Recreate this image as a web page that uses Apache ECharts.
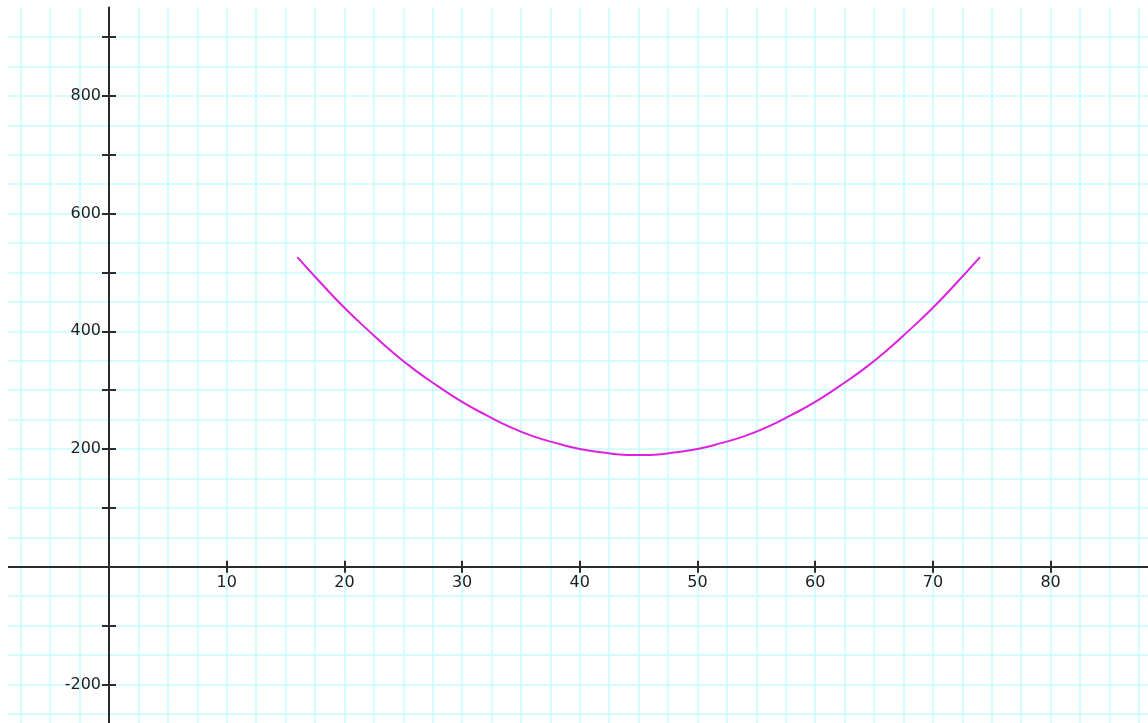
<!DOCTYPE html>
<html>
<head>
<meta charset="utf-8">
<script src="https://cdn.jsdelivr.net/npm/echarts@6/dist/echarts.min.js"></script>
<style>html,body{margin:0;padding:0;background:#fff}#c{width:1148px;height:723px}</style>
</head>
<body>
<div id="c"></div>
<script>
// Curve points (x, y)
var xValues = [16, 18, 20, 22, 24, 26, 28, 30, 32, 34, 36, 38, 40, 42, 44, 46, 48, 50, 52, 54, 56, 58, 60, 62, 64, 66, 68, 70, 72, 74];
var yValues = [526, 482, 440, 402, 366, 334, 306, 280, 258, 238, 222, 210, 200, 194, 190, 190, 194, 200, 210, 222, 238, 258, 280, 306, 334, 366, 402, 440, 482, 526];
var xTickLabels = [10, 20, 30, 40, 50, 60, 70, 80];
var yTickLabels = [-200, 200, 400, 600, 800];
var xTicks = [10, 20, 30, 40, 50, 60, 70, 80];
var yTicks = [-200, -100, 100, 200, 300, 400, 500, 600, 700, 800, 900];

var points = xValues.map(function (x, i) { return [x, yValues[i]]; });

var axisColor = '#2b2b2b';
var gridColor = '#c6fcfc';
var labelFont = { fontFamily: 'DejaVu Sans', fontSize: 16, color: '#1e1e1e' };

// layout: x from -10..90, y from -300..950
var gL = -8.7, gR = -20.3, gT = 7.6, gB = -20.3;
var W = 1148, H = 723;
var zeroX = 109.0, zeroY = 566.7;

var chart = echarts.init(document.getElementById('c'), null, { renderer: 'canvas' });
chart.setOption({
  animation: false,
  backgroundColor: '#fff',
  grid: { left: gL, right: gR, top: gT, bottom: gB, containLabel: false, outerBoundsMode: 'none' },
  xAxis: [
    {
      type: 'value', min: -10, max: 90, interval: 10, position: 'bottom',
      offset: -((H - gB) - zeroY),
      axisLine: { onZero: false, lineStyle: { color: axisColor, width: 2 } },
      axisTick: { show: true, inside: false, length: 6, customValues: xTicks, lineStyle: { color: axisColor, width: 2 } },
      axisLabel: Object.assign({
        margin: 8, customValues: xTickLabels,
        formatter: function (v) { return String(v); }
      }, labelFont),
      splitLine: { show: true, lineStyle: { color: gridColor, width: 1.5 } },
      minorTick: { show: false, splitNumber: 4 },
      minorSplitLine: { show: true, lineStyle: { color: gridColor, width: 1.5 } },
      z: 3
    },
    {
      type: 'value', min: -10, max: 90, interval: 10, position: 'top',
      offset: -(zeroY - gT),
      axisLine: { onZero: false, show: false },
      axisTick: { show: true, inside: false, length: 6, customValues: xTicks, lineStyle: { color: axisColor, width: 2 } },
      axisLabel: { show: false },
      splitLine: { show: false },
      z: 3
    }
  ],
  yAxis: [
    {
      type: 'value', min: -300, max: 950, interval: 100, position: 'left',
      offset: -(zeroX - gL),
      axisLine: { onZero: false, lineStyle: { color: axisColor, width: 2 } },
      axisTick: { show: true, inside: false, length: 7, customValues: yTicks, lineStyle: { color: axisColor, width: 2 } },
      axisLabel: Object.assign({
        margin: 8, customValues: yTickLabels,
        formatter: function (v) { return String(v); }
      }, labelFont),
      splitLine: { show: true, lineStyle: { color: gridColor, width: 1.5 } },
      minorTick: { show: false, splitNumber: 2 },
      minorSplitLine: { show: true, lineStyle: { color: gridColor, width: 1.5 } },
      z: 3
    },
    {
      type: 'value', min: -300, max: 950, interval: 100, position: 'right',
      offset: -((W - gR) - zeroX),
      axisLine: { onZero: false, show: false },
      axisTick: { show: true, inside: false, length: 7, customValues: yTicks, lineStyle: { color: axisColor, width: 2 } },
      axisLabel: { show: false },
      splitLine: { show: false },
      z: 3
    }
  ],
  series: [
    {
      type: 'line', xAxisIndex: 0, yAxisIndex: 0,
      data: points, smooth: true, showSymbol: false, symbol: 'none',
      lineStyle: { color: '#dd22dd', width: 2 },
      z: 5
    }
  ],
  graphic: [
    { type: 'rect', left: 0, top: 0, shape: { width: 8, height: 723 }, style: { fill: '#fff' }, z: 100 }
  ]
});
</script>
</body>
</html>
